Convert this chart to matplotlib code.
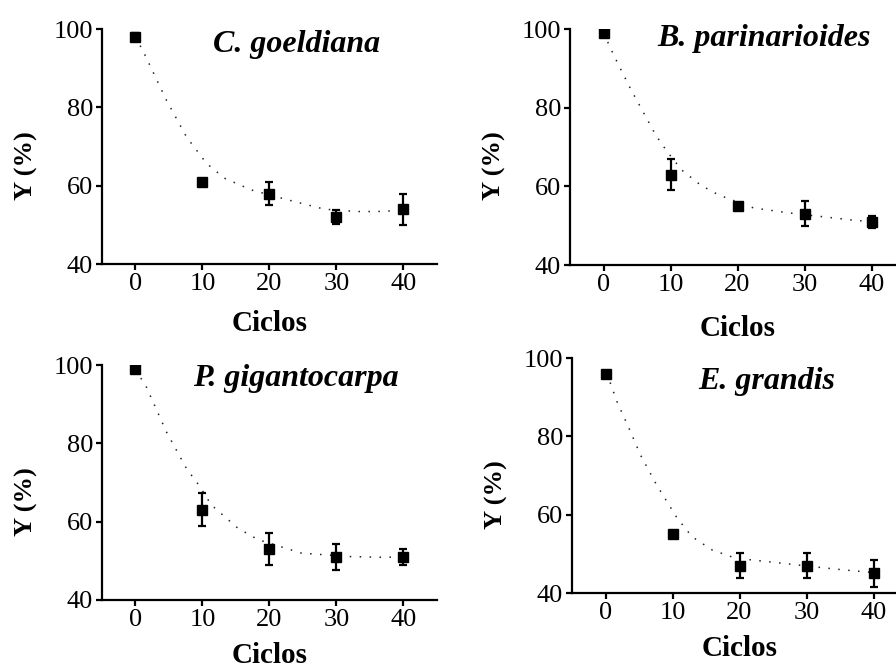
import matplotlib.pyplot as plt

plt.rcParams["font.family"] = ["Liberation Serif", "DejaVu Serif"]

ciclos = [0, 10, 20, 30, 40]

especies = ["C. goeldiana", "B. parinarioides", "P. gigantocarpa", "E. grandis"]

# mean yield (%) and error per cycle, one row per species
y_media = [
    [98, 61, 58, 52, 54],
    [99, 63, 55, 53, 51],
    [99, 63, 53, 51, 51],
    [96, 55, 47, 47, 45],
]
y_erro = [
    [1.0, 0.8, 3.0, 1.8, 4.0],
    [0.5, 4.0, 0.7, 3.2, 1.5],
    [0.5, 4.2, 4.0, 3.3, 2.0],
    [0.6, 0.8, 3.2, 3.2, 3.4],
]

# fitted decay curves (ciclo, Y)
curva_x = [
    [0, 1.3, 4.6, 7.6, 10.6, 13.3, 17.3, 22.7, 28.2, 33.0, 36.1, 40],
    [0, 1.3, 2.0, 4.0, 5.5, 6.3, 7.8, 9.5, 11.7, 14.5, 17.2, 22.4, 27.9, 37.3, 40],
    [0, 1.6, 4.6, 7.6, 9.6, 11.3, 15.3, 18.3, 24.7, 31.7, 37.2, 40],
    [0, 0.75, 1.7, 3.5, 5.2, 7.5, 9.0, 10.7, 12.9, 15.9, 19.4, 26.4, 30.0, 35.0, 40],
]
curva_y = [
    [98.0, 93.8, 81.9, 72.5, 65.7, 61.9, 58.9, 56.4, 54.0, 53.4, 53.4, 53.7],
    [99.0, 94.2, 91.7, 84.9, 80.2, 77.7, 73.0, 68.8, 64.1, 60.3, 57.8, 54.5, 53.2, 51.4, 51.0],
    [98.8, 94.5, 83.0, 73.6, 69.0, 64.3, 58.3, 55.4, 52.0, 51.1, 50.9, 51.0],
    [96.0, 93.5, 88.9, 82.1, 75.3, 68.0, 63.8, 59.1, 54.4, 51.0, 48.9, 47.6, 46.9, 46.0, 45.2],
]

# axes boxes in figure fractions (left, bottom, width, height)
caixas = [
    (0.1138, 0.6024, 0.3739, 0.3539),
    (0.6362, 0.6009, 0.3739, 0.3554),
    (0.1138, 0.0964, 0.3739, 0.3539),
    (0.6384, 0.1069, 0.3739, 0.3539),
]
titulo_y = [94.2, 95.7, 94.7, 92.0]
xlabel_y = [-0.196, -0.212, -0.179, -0.179]

fig = plt.figure(figsize=(8.96, 6.64), dpi=100)

for i, nome in enumerate(especies):
    ax = fig.add_axes(caixas[i])
    ax.plot(curva_x[i], curva_y[i], color="#222222", lw=1.1,
            linestyle=(0, (1, 5.5)), zorder=1)
    ax.errorbar(ciclos, y_media[i], yerr=y_erro[i], fmt="s", color="black",
                markersize=7.5, elinewidth=1.6, capsize=3.2, capthick=1.6,
                zorder=3)

    ax.set_xlim(-5, 45)
    ax.set_ylim(40, 100)
    ax.set_xticks(ciclos)
    ax.set_yticks([40, 60, 80, 100])
    for side in ("top", "right"):
        ax.spines[side].set_visible(False)
    for side in ("left", "bottom"):
        ax.spines[side].set_linewidth(1.6)
    ax.tick_params(direction="out", length=4.5, width=1.6, labelsize=19, pad=2)

    ax.set_xlabel("Ciclos", fontsize=21, fontweight="bold")
    ax.xaxis.set_label_coords(0.5, xlabel_y[i])
    ax.set_ylabel("Y (%)", fontsize=19, fontweight="bold")
    ax.yaxis.set_label_coords(-0.19, 0.42)

    ax.text(24, titulo_y[i], nome, ha="center", va="baseline", fontsize=23,
            fontstyle="italic", fontweight="bold")

fig.savefig("out.png", dpi=100)
